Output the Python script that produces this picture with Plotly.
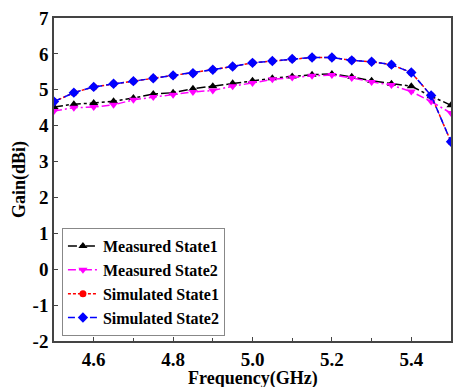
import plotly.graph_objects as go

freq = [4.5, 4.55, 4.6, 4.65, 4.7, 4.75, 4.8, 4.85, 4.9, 4.95, 5.0,
        5.05, 5.1, 5.15, 5.2, 5.25, 5.3, 5.35, 5.4, 5.45, 5.5]
measured1 = [4.52, 4.6, 4.63, 4.68, 4.77, 4.88, 4.92, 5.03, 5.1, 5.18, 5.25,
             5.32, 5.37, 5.42, 5.44, 5.36, 5.25, 5.17, 5.1, 4.82, 4.57]
measured2 = [4.41, 4.5, 4.52, 4.58, 4.72, 4.8, 4.86, 4.94, 4.98, 5.1, 5.19,
             5.29, 5.34, 5.39, 5.41, 5.33, 5.22, 5.13, 4.95, 4.67, 4.35]
simulated1 = [4.67, 4.92, 5.08, 5.17, 5.24, 5.32, 5.4, 5.46, 5.56, 5.65, 5.75,
              5.8, 5.86, 5.9, 5.9, 5.82, 5.78, 5.7, 5.48, 4.84, 3.55]
simulated2 = [4.67, 4.92, 5.08, 5.17, 5.24, 5.32, 5.4, 5.46, 5.56, 5.65, 5.75,
              5.8, 5.86, 5.9, 5.9, 5.82, 5.78, 5.7, 5.48, 4.84, 3.55]

x_ticks = [4.6, 4.8, 5.0, 5.2, 5.4]
x_tick_text = ["4.6", "4.8", "5.0", "5.2", "5.4"]
y_ticks = [-2, -1, 0, 1, 2, 3, 4, 5, 6, 7]

FONT = "Liberation Serif"

fig = go.Figure()
fig.add_trace(go.Scatter(x=freq, y=measured1, name="<b>Measured State1</b>", mode="lines+markers",
                         line=dict(color="black", width=1.5, dash="dashdot"),
                         marker=dict(symbol="triangle-up", size=8, color="black")))
fig.add_trace(go.Scatter(x=freq, y=measured2, name="<b>Measured State2</b>", mode="lines+markers",
                         line=dict(color="#FF00FF", width=1.5, dash="8px,3px,2px,3px"),
                         marker=dict(symbol="triangle-down", size=8, color="#FF00FF")))
fig.add_trace(go.Scatter(x=freq, y=simulated1, name="<b>Simulated State1</b>", mode="lines+markers",
                         line=dict(color="red", width=1.5, dash="3px,2px"),
                         marker=dict(symbol="circle", size=7, color="red")))
fig.add_trace(go.Scatter(x=freq, y=simulated2, name="<b>Simulated State2</b>", mode="lines+markers",
                         line=dict(color="blue", width=1.5, dash="7px,4px"),
                         marker=dict(symbol="diamond", size=8, color="blue")))

axis_common = dict(showline=True, linecolor="#444", linewidth=1.5, mirror=True,
                   ticks="inside", ticklen=4, tickcolor="#444", showgrid=False, zeroline=False,
                   tickfont=dict(family=FONT, size=19, color="black"))

fig.update_xaxes(range=[4.5, 5.5], tickvals=x_ticks, ticktext=["<b>%s</b>" % t for t in x_tick_text],
                 minor=dict(ticks="inside", ticklen=3, dtick=0.1, tick0=4.5, tickcolor="#444"),
                 **axis_common)
fig.update_yaxes(range=[-2, 7], tickvals=y_ticks, ticktext=["<b>%d</b>" % v for v in y_ticks],
                 title=dict(text="<b>Gain(dBi)</b>", font=dict(family=FONT, size=18, color="black"),
                            standoff=2),
                 **axis_common)

fig.add_annotation(text="<b>Frequency(GHz)</b>", xref="paper", yref="paper", x=0.5, y=0,
                   xanchor="center", yanchor="middle", yshift=-37, showarrow=False,
                   font=dict(family=FONT, size=18, color="black"))

fig.update_layout(
    width=455, height=387,
    margin=dict(l=54, r=2, t=18, b=46),
    paper_bgcolor="white", plot_bgcolor="white",
    font=dict(family=FONT, color="black"),
    legend=dict(x=0.02, y=0.015, xanchor="left", yanchor="bottom",
                bgcolor="white", bordercolor="#888", borderwidth=1,
                font=dict(family=FONT, size=16, color="black"),
                tracegroupgap=0, itemwidth=30),
)

fig.write_html("out.html")
